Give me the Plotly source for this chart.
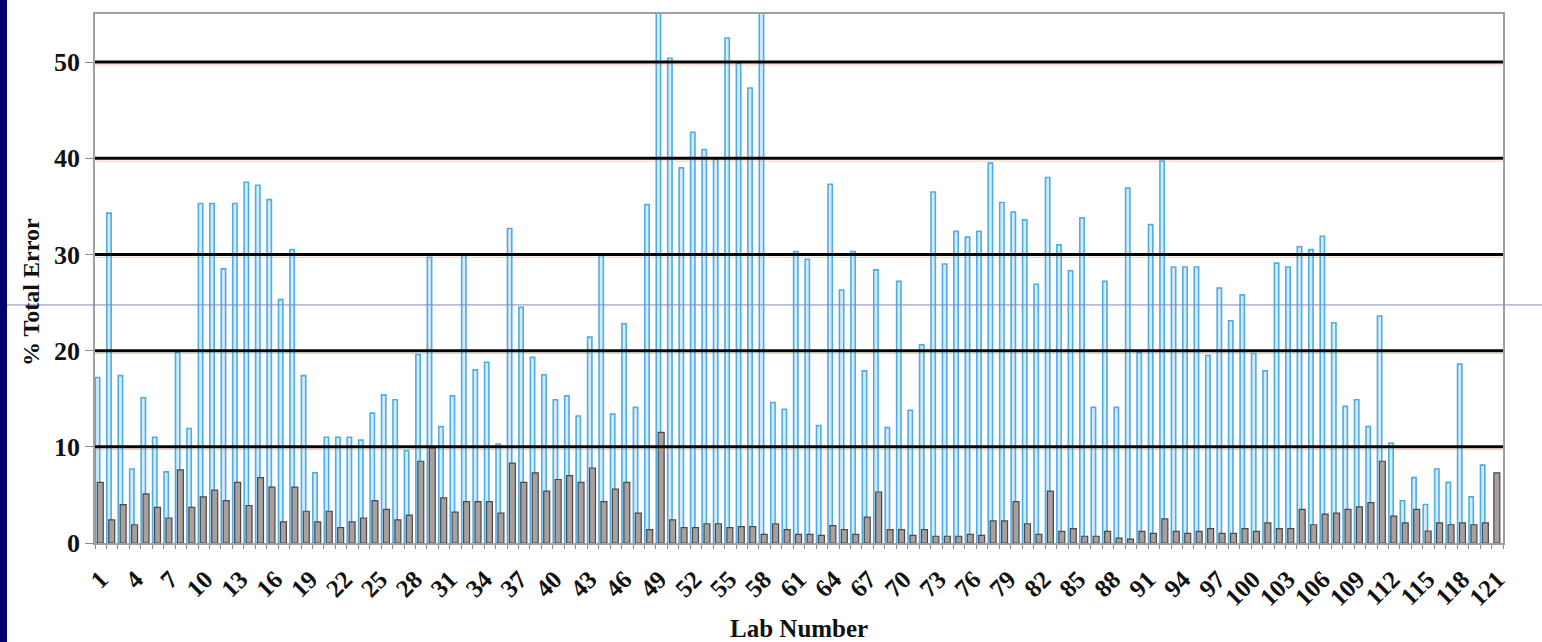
import numpy as np
import plotly.graph_objects as go

# % total error per participating lab (light blue = total error, grey = second component)
lab_index = list(range(1, 124))

total_error_blue = [
    17.2, 34.3, 17.4, 7.7, 15.1, 11.0, 7.4, 19.8, 11.9, 35.3,
    35.3, 28.5, 35.3, 37.5, 37.2, 35.7, 25.3, 30.5, 17.4, 7.3,
    11.0, 11.0, 11.0, 10.7, 13.5, 15.4, 14.9, 9.6, 19.6, 29.7,
    12.1, 15.3, 29.9, 18.0, 18.8, 10.3, 32.7, 24.5, 19.3, 17.5,
    14.9, 15.3, 13.2, 21.4, 29.9, 13.4, 22.8, 14.1, 35.2, 56.0,
    50.4, 39.0, 42.7, 40.9, 39.9, 52.5, 49.9, 47.3, 56.0, 14.6,
    13.9, 30.3, 29.5, 12.2, 37.3, 26.3, 30.3, 17.9, 28.4, 12.0,
    27.2, 13.8, 20.6, 36.5, 29.0, 32.4, 31.8, 32.4, 39.5, 35.4,
    34.4, 33.6, 26.9, 38.0, 31.0, 28.3, 33.8, 14.1, 27.2, 14.1,
    36.9, 19.8, 33.1, 39.7, 28.7, 28.7, 28.7, 19.5, 26.5, 23.1,
    25.8, 19.7, 17.9, 29.1, 28.7, 30.8, 30.5, 31.9, 22.9, 14.2,
    14.9, 12.1, 23.6, 10.4, 4.4, 6.8, 4.0, 7.7, 6.3, 18.6,
    4.8, 8.1, None,
]

total_error_grey = [
    6.3, 2.4, 4.0, 1.9, 5.1, 3.7, 2.6, 7.6, 3.7, 4.8,
    5.5, 4.4, 6.3, 3.9, 6.8, 5.8, 2.2, 5.8, 3.3, 2.2,
    3.3, 1.6, 2.2, 2.6, 4.4, 3.5, 2.4, 2.9, 8.5, 9.9,
    4.7, 3.2, 4.3, 4.3, 4.3, 3.1, 8.3, 6.3, 7.3, 5.4,
    6.6, 7.0, 6.3, 7.8, 4.3, 5.6, 6.3, 3.1, 1.4, 11.5,
    2.4, 1.6, 1.6, 2.0, 2.0, 1.6, 1.7, 1.7, 0.9, 2.0,
    1.4, 0.9, 0.9, 0.8, 1.8, 1.4, 0.9, 2.7, 5.3, 1.4,
    1.4, 0.8, 1.4, 0.7, 0.7, 0.7, 0.9, 0.8, 2.3, 2.3,
    4.3, 2.0, 0.9, 5.4, 1.2, 1.5, 0.7, 0.7, 1.2, 0.5,
    0.4, 1.2, 1.0, 2.5, 1.2, 1.0, 1.2, 1.5, 1.0, 1.0,
    1.5, 1.2, 2.1, 1.5, 1.5, 3.5, 1.9, 3.0, 3.1, 3.5,
    3.75, 4.2, 8.5, 2.8, 2.1, 3.5, 1.25, 2.1, 1.9, 2.1,
    1.9, 2.1, 7.3,
]

tick_labels = [
    "1", "4", "7", "10", "13", "16", "19", "22", "25", "28", "31",
    "34", "37", "40", "43", "46", "49", "52", "55", "58", "61", "64",
    "67", "70", "73", "76", "79", "82", "85", "88", "91", "94", "97",
    "100", "103", "106", "109", "112", "115", "118", "121",
]

y_ticks = [0, 10, 20, 30, 40, 50]
y_max = 55

# ---- geometry -------------------------------------------------------------
W, H = 1542, 642
ML, MR, MT, MB = 95, 39, 14, 99
PW, PH = W - ML - MR, H - MT - MB

n = len(lab_index)
tick_pos = np.linspace(lab_index[0], lab_index[-1], len(tick_labels))

serif = "Liberation Serif"

fig = go.Figure()

fig.add_trace(go.Bar(
    x=lab_index, y=total_error_blue,
    width=0.38, offset=-0.47,
    marker=dict(color="rgba(196,226,248,0.7)",
                line=dict(color="#4dade6", width=1.6)),
    showlegend=False, hoverinfo="x+y",
))
fig.add_trace(go.Bar(
    x=lab_index, y=total_error_grey,
    width=0.52, offset=-0.30,
    marker=dict(color="#a7a09e",
                line=dict(color="#4d4848", width=1.2)),
    showlegend=False, hoverinfo="x+y",
))

shapes = []
# heavy black grid lines, drawn over the bars, with a faint warm fringe below
for v in y_ticks[1:]:
    shapes.append(dict(type="line", xref="paper", yref="y", x0=0, x1=1,
                       y0=v - 0.3, y1=v - 0.3,
                       line=dict(color="rgba(232,140,110,0.45)", width=1),
                       layer="above"))
    shapes.append(dict(type="line", xref="paper", yref="y", x0=0, x1=1,
                       y0=v, y1=v, line=dict(color="#050505", width=3),
                       layer="above"))

# dark navy strip on the left edge of the slide
shapes.append(dict(type="rect", xref="paper", yref="paper",
                   x0=-ML / PW, x1=(-ML + 7) / PW,
                   y0=-MB / PH, y1=1 + MT / PH,
                   fillcolor="#04006b", line=dict(width=0), layer="above"))

# thin rule running across the slide
shapes.append(dict(type="line", xref="paper", yref="y",
                   x0=(-ML + 7) / PW, x1=(W - ML) / PW, y0=24.75, y1=24.75,
                   line=dict(color="#8585bd", width=1), layer="above"))

annotations = [
    dict(text="Lab Number", xref="paper", yref="paper",
         x=0.5, y=(MT + PH - 628) / PH, xanchor="center", yanchor="middle",
         showarrow=False,
         font=dict(family=serif, size=25, color="#111", weight="bold")),
    dict(text="% Total Error", xref="paper", yref="paper",
         x=(31 - ML) / PW, y=(MT + PH - 292) / PH, textangle=-90,
         xanchor="center", yanchor="middle", showarrow=False,
         font=dict(family=serif, size=24, color="#111", weight="bold")),
]

fig.update_layout(
    width=W, height=H,
    margin=dict(l=ML, r=MR, t=MT, b=MB, pad=0),
    paper_bgcolor="white", plot_bgcolor="white",
    barmode="overlay",
    shapes=shapes, annotations=annotations,
    xaxis=dict(
        range=[0.5, n + 0.5],
        tickmode="array", tickvals=tick_pos, ticktext=tick_labels,
        tickangle=-45,
        tickfont=dict(family=serif, size=25, color="#111", weight="bold"),
        ticks="outside", ticklen=10, tickcolor="rgba(0,0,0,0)",
        minor=dict(tickmode="linear", tick0=0.5, dtick=1, ticks="outside",
                   ticklen=4, tickcolor="#8a8a8a", tickwidth=1, showgrid=False),
        showgrid=False, zeroline=False,
        showline=True, linecolor="#a0a0a0", linewidth=1.5, mirror=True,
    ),
    yaxis=dict(
        range=[0, y_max],
        tickmode="array", tickvals=y_ticks,
        tickfont=dict(family=serif, size=26, color="#111", weight="bold"),
        ticks="outside", ticklen=8, tickcolor="#8a8a8a",
        showgrid=False, zeroline=False,
        showline=True, linecolor="#a0a0a0", linewidth=1.5, mirror=True,
    ),
)

fig.write_html("out.html")
